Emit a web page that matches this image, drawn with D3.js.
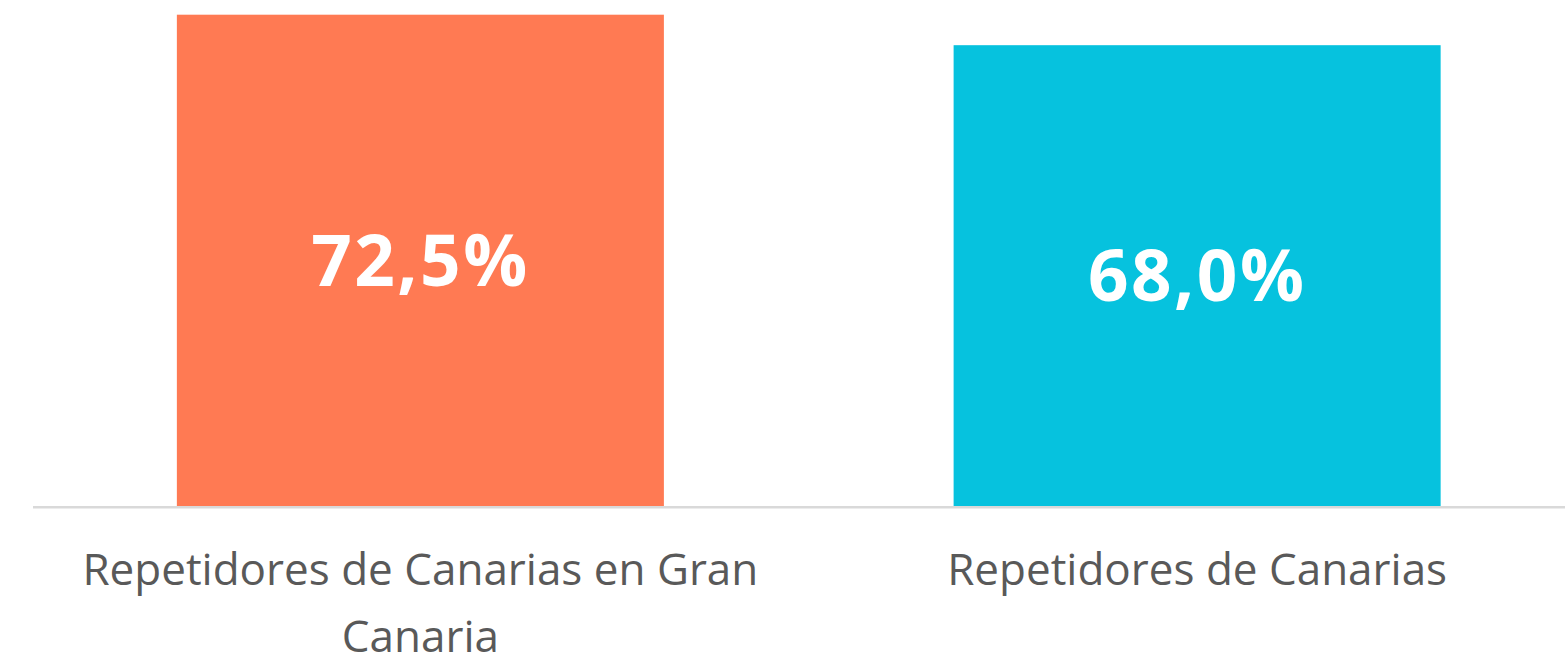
<!DOCTYPE html>
<html>
<head>
<meta charset="utf-8">
<script src="https://cdn.jsdelivr.net/npm/d3@7"></script>
<style>
  html, body { margin: 0; padding: 0; background: #ffffff; overflow: hidden; }
  svg { display: block; }
  text { font-variant-ligatures: none; }
</style>
</head>
<body>
<svg id="chart" width="1565" height="657"></svg>
<script>
const categories = ["Repetidores de Canarias en Gran Canaria", "Repetidores de Canarias"];
const values = [72.5, 68.0];
const colors = ["#FF7A53", "#06C2DE"];

const svg = d3.select("#chart");
const W = 1565, H = 657;
const baseY = 506;

const x = d3.scaleBand().domain(categories).range([32, 1585.5]).paddingInner(0.373).paddingOuter(0.1865);
const y = d3.scaleLinear().domain([0, 80]).range([baseY, baseY - 80 * (baseY - 14.7) / 72.5]);

const fmt = v => d3.format(".1f")(v).replace(".", ",") + "%";

// bars
svg.selectAll("rect.bar").data(values).join("rect")
  .attr("class", "bar")
  .attr("x", (d, i) => x(categories[i]))
  .attr("width", x.bandwidth())
  .attr("y", d => y(d))
  .attr("height", d => y(0) - y(d))
  .attr("fill", (d, i) => colors[i]);

// baseline axis
const axis = svg.append("g").attr("transform", `translate(0,${baseY + 1.3})`);
axis.append("line").attr("x1", 33).attr("x2", W).attr("y1", 0).attr("y2", 0)
  .attr("stroke", "#d9d9d9").attr("stroke-width", 2.6);

// data labels
svg.selectAll("text.val").data(values).join("text")
  .attr("class", "val")
  .attr("x", (d, i) => x(categories[i]) + x.bandwidth() / 2)
  .attr("y", d => (y(d) + y(0)) / 2)
  .attr("dy", "0.357em")
  .attr("text-anchor", "middle")
  .attr("font-family", "'Open Sans', sans-serif")
  .attr("font-weight", "bold")
  .attr("font-size", 71)
  .attr("letter-spacing", 2.5)
  .attr("fill", "#ffffff")
  .text(d => fmt(d));

// category labels with wrapping
const maxW = 740;
categories.forEach((c, i) => {
  const cx = x(c) + x.bandwidth() / 2;
  const t = svg.append("text")
    .attr("x", cx)
    .attr("y", 585)
    .attr("text-anchor", "middle")
    .attr("font-family", "'Open Sans', sans-serif")
    .attr("font-size", 44)
    .attr("fill", "#595959");
  const words = c.split(" ");
  let line = [];
  let ts = t.append("tspan").attr("x", cx).attr("dy", 0);
  words.forEach(w => {
    line.push(w);
    ts.text(line.join(" "));
    if (ts.node().getComputedTextLength() > maxW && line.length > 1) {
      line.pop();
      ts.text(line.join(" "));
      line = [w];
      ts = t.append("tspan").attr("x", cx).attr("dy", 67).text(w);
    }
  });
});
</script>
</body>
</html>
